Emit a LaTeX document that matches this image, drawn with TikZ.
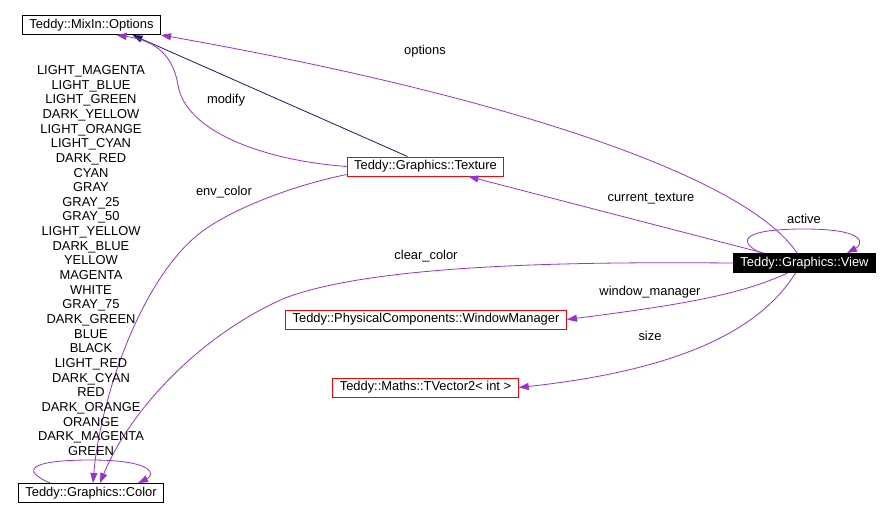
\documentclass[tikz,border=0pt]{standalone}
\usepackage{fontspec}
\setmainfont{Liberation Sans}
\usepackage{xcolor}
\usepackage{tikz}
\usetikzlibrary{arrows.meta}

\definecolor{edgepurple}{HTML}{9A32CD}
\definecolor{inhblue}{HTML}{191970}

\begin{document}
\begin{tikzpicture}[
    x=1pt, y=-1pt,
    >={Triangle[length=10pt,width=7pt]},
    font=\fontsize{12.9}{14.65}\selectfont,
    cls/.style={draw, line width=1pt, inner xsep=7pt, inner ysep=0pt, minimum height=19pt},
    clsred/.style={cls, draw=red},
    clsmain/.style={cls, draw=black, fill=black, text=white},
    uses/.style={->, edgepurple, line width=0.8pt},
    inherits/.style={->, inhblue, line width=0.8pt},
    elabel/.style={inner sep=1pt}
]
\useasboundingbox[fill=white] (0,0) rectangle (892,509);

\node[cls] (options) at (91.5,25) {Teddy::MixIn::Options};
\node[cls] (color) at (91,493) {Teddy::Graphics::Color};
\node[clsred] (texture) at (425.5,166.5) {Teddy::Graphics::Texture};
\node[clsred] (winmgr) at (426,319.5) {Teddy::PhysicalComponents::WindowManager};
\node[clsred] (tvector) at (425.5,387.5) {Teddy::Maths::TVector2< int >};
\node[clsmain] (view) at (804.5,263) {Teddy::Graphics::View};

% inheritance
\draw[inherits] ([xshift=-18pt]texture.north) -- ([xshift=41pt]options.south);

% usage relations
\draw[uses] (texture.west) .. controls (260,160) and (185,130) .. (178,85)
    .. controls (172,50) and (150,40) .. ([xshift=25pt]options.south);
\node[elabel] (modify) at (226,100) {modify};

\draw[uses] ([xshift=-7.5pt]view.north) .. controls (745,175) and (500,95) .. (options.south east);
\node[elabel] (optlbl) at (425,51) {options};

\draw[uses] ([xshift=-41pt]view.north) -- ([xshift=43pt]texture.south);
\node[elabel] (curtex) at (651,199) {current\_texture};

\draw[uses] ([xshift=-44pt]view.north) .. controls (735,240) and (745,229) .. (804,229)
    .. controls (870,229) and (862,245) .. ([xshift=42.5pt]view.north);
\node[elabel] (active) at (804,219) {active};

\draw[uses] (view.west) .. controls (600,262) and (380,262) .. (285,298)
    .. controls (200,335) and (130,410) .. ([xshift=9pt]color.north);
\node[elabel] (clearcol) at (426,256) {clear\_color};

\draw[uses] ([yshift=2pt]texture.south west) .. controls (290,186) and (230,210) .. (200,233)
    .. controls (140,280) and (100,400) .. ([xshift=2pt]color.north);
\node[elabel] (envcol) at (224,192) {env\_color};

\draw[uses] ([xshift=-41pt]color.north) .. controls (20,470) and (30,460) .. (91,460)
    .. controls (155,460) and (155,475) .. ([xshift=47pt]color.north);
\node[elabel, align=center] (colnames) at (91,260.5) {LIGHT\_MAGENTA\\LIGHT\_BLUE\\LIGHT\_GREEN\\DARK\_YELLOW\\LIGHT\_ORANGE\\LIGHT\_CYAN\\DARK\_RED\\CYAN\\GRAY\\GRAY\_25\\GRAY\_50\\LIGHT\_YELLOW\\DARK\_BLUE\\YELLOW\\MAGENTA\\WHITE\\GRAY\_75\\DARK\_GREEN\\BLUE\\BLACK\\LIGHT\_RED\\DARK\_CYAN\\RED\\DARK\_ORANGE\\ORANGE\\DARK\_MAGENTA\\GREEN};

\draw[uses] ([xshift=-17pt]view.south) .. controls (740,295) and (680,305) .. (winmgr.east);
\node[elabel] (winlbl) at (650,292) {window\_manager};

\draw[uses] ([xshift=-9pt]view.south) .. controls (760,330) and (680,370) .. (tvector.east);
\node[elabel] (sizelbl) at (650,336) {size};
\end{tikzpicture}
\end{document}
